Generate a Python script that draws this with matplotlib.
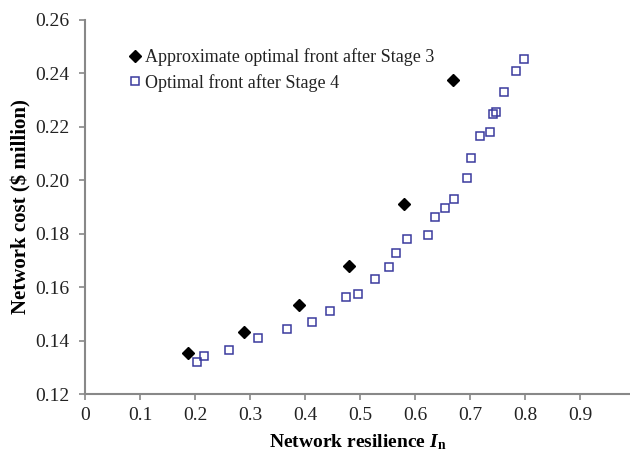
import matplotlib
matplotlib.use("Agg")
import matplotlib.pyplot as plt

# approximate optimal front after stage 3
stage3_x = [0.188, 0.289, 0.390, 0.480, 0.580, 0.670]
stage3_y = [0.1354, 0.1431, 0.1535, 0.1680, 0.1910, 0.2375]

# optimal front after stage 4
stage4_x = [0.204, 0.217, 0.262, 0.315, 0.368, 0.413, 0.446, 0.475, 0.496,
            0.528, 0.552, 0.565, 0.585, 0.623, 0.636, 0.654, 0.671, 0.694,
            0.702, 0.719, 0.737, 0.742, 0.748, 0.762, 0.783, 0.798]
stage4_y = [0.1318, 0.1341, 0.1363, 0.1409, 0.1443, 0.1470, 0.1511, 0.1563, 0.1573,
            0.1629, 0.1675, 0.1729, 0.1779, 0.1795, 0.1864, 0.1896, 0.1931, 0.2009,
            0.2085, 0.2165, 0.2180, 0.2250, 0.2255, 0.2330, 0.2410, 0.2455]

x_ticks = [0, 0.1, 0.2, 0.3, 0.4, 0.5, 0.6, 0.7, 0.8, 0.9]
x_labels = ["0", "0.1", "0.2", "0.3", "0.4", "0.5", "0.6", "0.7", "0.8", "0.9"]
y_ticks = [0.12, 0.14, 0.16, 0.18, 0.20, 0.22, 0.24, 0.26]
y_labels = ["%.2f" % v for v in y_ticks]

plt.rcParams["font.family"] = "Liberation Serif"
plt.rcParams["mathtext.fontset"] = "custom"
plt.rcParams["mathtext.rm"] = "Liberation Serif"
plt.rcParams["mathtext.bf"] = "Liberation Serif:bold"
plt.rcParams["mathtext.it"] = "Liberation Serif:italic"
plt.rcParams["mathtext.bfit"] = "Liberation Serif:bold:italic"

fig = plt.figure(figsize=(6.30, 4.53), dpi=100)
ax = fig.add_axes([85 / 630, 1 - 394 / 453, 1 - 85 / 630, (394 - 20) / 453])

ax.plot(stage3_x, stage3_y, linestyle="none", marker="D", markersize=6.2,
        color="black", label="Approximate optimal front after Stage 3", clip_on=False)
ax.plot(stage4_x, stage4_y, linestyle="none", marker="s", markersize=6.4,
        markerfacecolor="none", markeredgecolor="#3a3a9e", markeredgewidth=1.1,
        label="Optimal front after Stage 4", clip_on=False)

ax.set_xlim(0, 0.991)
ax.set_ylim(0.12, 0.26)
ax.set_xticks(x_ticks)
ax.set_xticklabels(x_labels)
ax.set_yticks(y_ticks)
ax.set_yticklabels(y_labels)

for side in ["top", "right"]:
    ax.spines[side].set_visible(False)
for side in ["left", "bottom"]:
    ax.spines[side].set_color("#888888")
    ax.spines[side].set_linewidth(1.5)
ax.tick_params(direction="out", length=4, width=1.2, color="#888888",
               labelsize=14, labelcolor="#222222")
ax.tick_params(axis="y", pad=7)
ax.tick_params(axis="x", pad=5)

ax.set_xlabel(r"Network resilience $\mathbfit{I}_\mathbf{n}$", fontsize=14,
              fontweight="bold", labelpad=6)
ax.set_ylabel("Network cost ($ million)", fontsize=15, fontweight="bold", labelpad=3)

ax.legend(loc="upper left", bbox_to_anchor=(0.066, 0.943), frameon=False,
          fontsize=13, handletextpad=0.15, handlelength=0.8, labelspacing=0.4,
          borderaxespad=0, labelcolor="#222222")

fig.savefig("out.png", dpi=100)
